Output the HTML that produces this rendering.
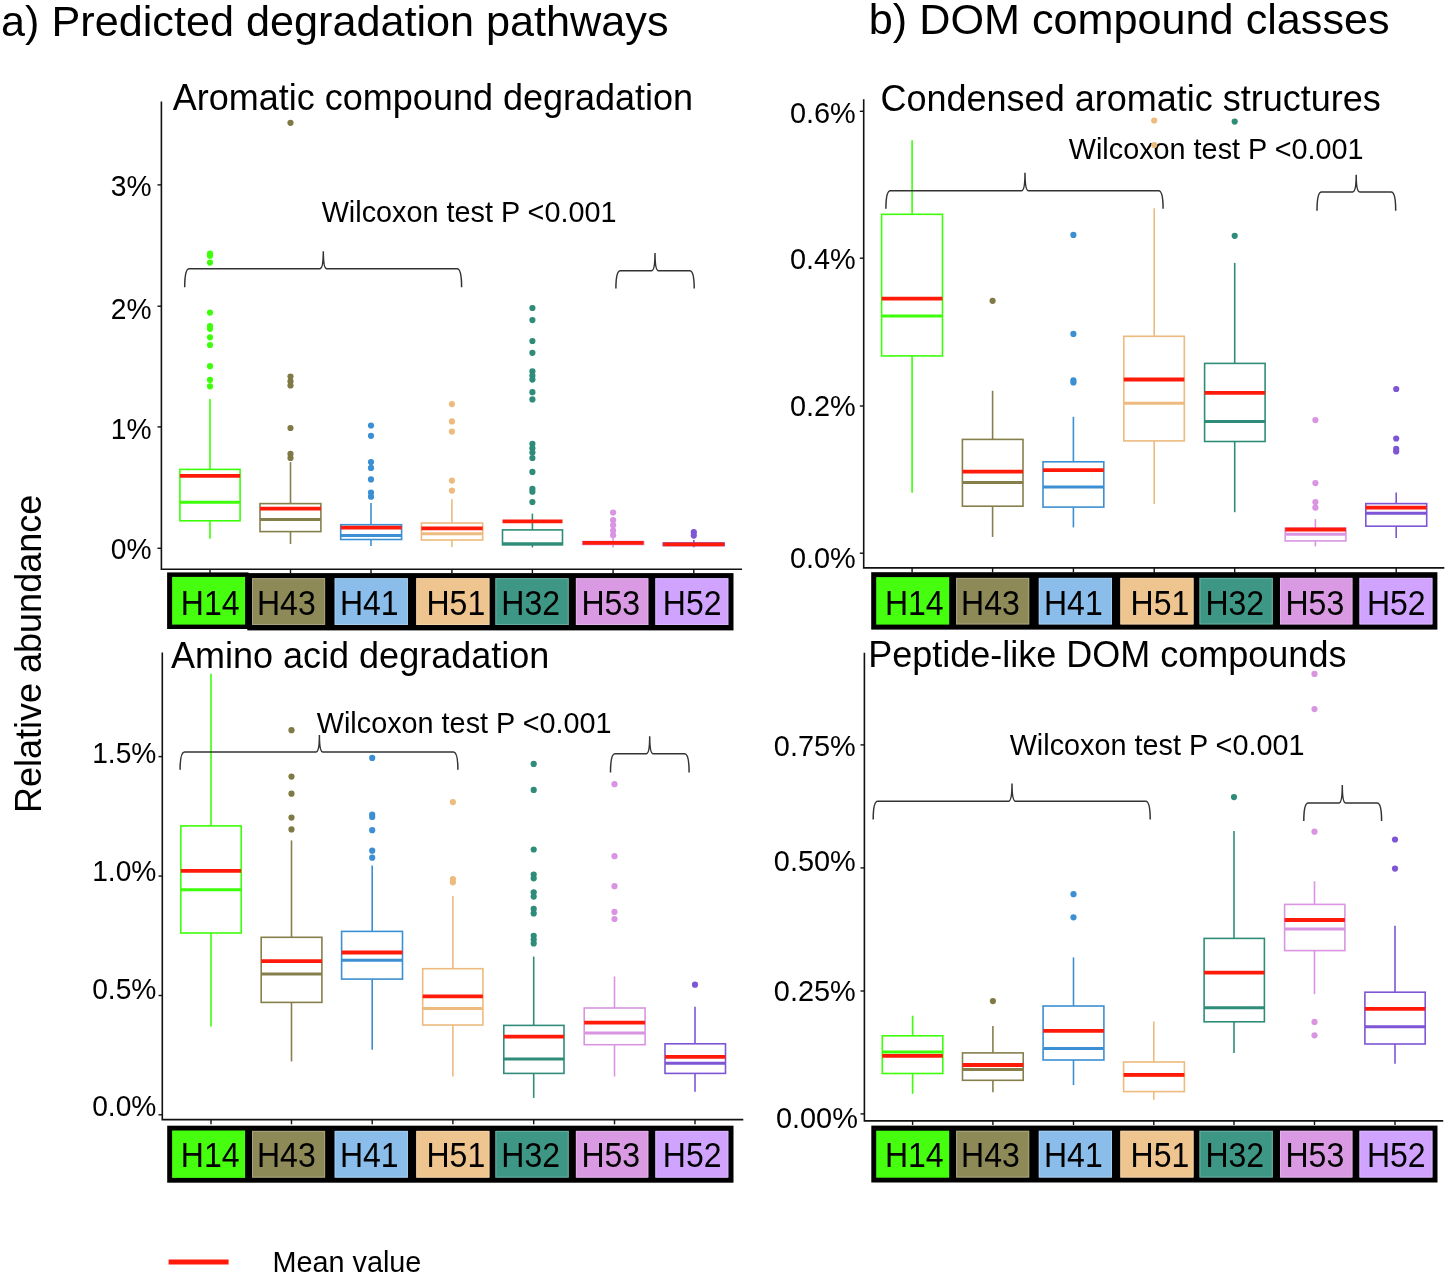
<!DOCTYPE html><html><head><meta charset="utf-8"><style>html,body{margin:0;padding:0;background:#fff;}svg{display:block}text{font-family:"Liberation Sans",sans-serif;}</style></head><body>
<svg width="1450" height="1275" viewBox="0 0 1450 1275" style="will-change:transform">
<rect width="1450" height="1275" fill="#fff"/>
<text x="1.1" y="35.9" font-size="43.2" text-anchor="start" >a) Predicted degradation pathways</text>
<text x="868.8" y="33.8" font-size="43.2" text-anchor="start" >b) DOM compound classes</text>
<text x="172.8" y="109.9" font-size="36" text-anchor="start" >Aromatic compound degradation</text>
<text x="171" y="667.6" font-size="36" text-anchor="start" >Amino acid degradation</text>
<text x="880.5" y="110.8" font-size="36" text-anchor="start" >Condensed aromatic structures</text>
<text x="868.2" y="666.8" font-size="36" text-anchor="start" >Peptide-like DOM compounds</text>
<text x="321.7" y="222.4" font-size="28.8" text-anchor="start" >Wilcoxon test P &lt;0.001</text>
<text x="316.8" y="732.9" font-size="28.8" text-anchor="start" >Wilcoxon test P &lt;0.001</text>
<text x="1068.8" y="158.8" font-size="28.8" text-anchor="start" >Wilcoxon test P &lt;0.001</text>
<text x="1009.7" y="754.5" font-size="28.8" text-anchor="start" >Wilcoxon test P &lt;0.001</text>
<text x="272.5" y="1271.7" font-size="28.8" text-anchor="start" >Mean value</text>
<text x="0" y="0" font-size="36" text-anchor="middle" transform="translate(41,653.9) rotate(-90)">Relative abundance</text>
<line x1="168.6" y1="1261.9" x2="228.6" y2="1261.9" stroke="#FF1A0A" stroke-width="5"/>
<text transform="translate(151.6,196.3) scale(1,1.05)" font-size="28.2" text-anchor="end" >3%</text>
<text transform="translate(151.6,319) scale(1,1.05)" font-size="28.2" text-anchor="end" >2%</text>
<text transform="translate(151.6,439.1) scale(1,1.05)" font-size="28.2" text-anchor="end" >1%</text>
<text transform="translate(151.6,558.6) scale(1,1.05)" font-size="28.2" text-anchor="end" >0%</text>
<path d="M161.4,101.4 V569.2 H742" fill="none" stroke="#111" stroke-width="1.6"/>
<line x1="157.5" y1="184.9" x2="161.4" y2="184.9" stroke="#111" stroke-width="1.4"/>
<line x1="157.5" y1="306.2" x2="161.4" y2="306.2" stroke="#111" stroke-width="1.4"/>
<line x1="157.5" y1="426.9" x2="161.4" y2="426.9" stroke="#111" stroke-width="1.4"/>
<line x1="157.5" y1="548.3" x2="161.4" y2="548.3" stroke="#111" stroke-width="1.4"/>
<line x1="210" y1="569.2" x2="210" y2="573.2" stroke="#111" stroke-width="1.4"/>
<line x1="290.5" y1="569.2" x2="290.5" y2="573.2" stroke="#111" stroke-width="1.4"/>
<line x1="371" y1="569.2" x2="371" y2="573.2" stroke="#111" stroke-width="1.4"/>
<line x1="451.9" y1="569.2" x2="451.9" y2="573.2" stroke="#111" stroke-width="1.4"/>
<line x1="532.4" y1="569.2" x2="532.4" y2="573.2" stroke="#111" stroke-width="1.4"/>
<line x1="613.1" y1="569.2" x2="613.1" y2="573.2" stroke="#111" stroke-width="1.4"/>
<line x1="693.8" y1="569.2" x2="693.8" y2="573.2" stroke="#111" stroke-width="1.4"/>
<g stroke="#3DFF0A" fill="none" stroke-width="1.6">
<line x1="210" y1="399" x2="210" y2="469.4"/>
<line x1="210" y1="520.8" x2="210" y2="538.7"/>
<rect x="179.9" y="469.4" width="60.2" height="51.4"/>
<line x1="179.9" y1="502.3" x2="240.1" y2="502.3" stroke-width="3"/>
</g>
<line x1="179.9" y1="475.8" x2="240.1" y2="475.8" stroke="#FF1A0A" stroke-width="3.8"/>
<circle cx="210" cy="253.6" r="3.1" fill="#3DFF0A"/>
<circle cx="210" cy="255.7" r="3.1" fill="#3DFF0A"/>
<circle cx="210" cy="262.6" r="3.1" fill="#3DFF0A"/>
<circle cx="210" cy="312.6" r="3.1" fill="#3DFF0A"/>
<circle cx="210" cy="326" r="3.1" fill="#3DFF0A"/>
<circle cx="210" cy="328.8" r="3.1" fill="#3DFF0A"/>
<circle cx="210" cy="337.3" r="3.1" fill="#3DFF0A"/>
<circle cx="210" cy="345" r="3.1" fill="#3DFF0A"/>
<circle cx="210" cy="366.2" r="3.1" fill="#3DFF0A"/>
<circle cx="210" cy="379.8" r="3.1" fill="#3DFF0A"/>
<circle cx="210" cy="386.3" r="3.1" fill="#3DFF0A"/>
<g stroke="#857F4C" fill="none" stroke-width="1.6">
<line x1="290.5" y1="462.1" x2="290.5" y2="503.6"/>
<line x1="290.5" y1="531.6" x2="290.5" y2="544.1"/>
<rect x="260" y="503.6" width="60.9" height="28"/>
<line x1="260" y1="519.4" x2="320.9" y2="519.4" stroke-width="3"/>
</g>
<line x1="260" y1="508.7" x2="320.9" y2="508.7" stroke="#FF1A0A" stroke-width="3.8"/>
<circle cx="290.5" cy="122.8" r="3.1" fill="#7F7A45"/>
<circle cx="290.5" cy="376.5" r="3.1" fill="#7F7A45"/>
<circle cx="290.5" cy="381.4" r="3.1" fill="#7F7A45"/>
<circle cx="290.5" cy="385.5" r="3.1" fill="#7F7A45"/>
<circle cx="290.5" cy="428" r="3.1" fill="#7F7A45"/>
<circle cx="290.5" cy="453.9" r="3.1" fill="#7F7A45"/>
<circle cx="290.5" cy="458" r="3.1" fill="#7F7A45"/>
<g stroke="#3B8FD2" fill="none" stroke-width="1.6">
<line x1="371" y1="503" x2="371" y2="524.7"/>
<line x1="371" y1="539.5" x2="371" y2="546.1"/>
<rect x="340.7" y="524.7" width="60.9" height="14.8"/>
<line x1="340.7" y1="535.4" x2="401.6" y2="535.4" stroke-width="3"/>
</g>
<line x1="340.7" y1="527.7" x2="401.6" y2="527.7" stroke="#FF1A0A" stroke-width="3.8"/>
<circle cx="371" cy="425.5" r="3.1" fill="#3B8FD2"/>
<circle cx="371" cy="435.8" r="3.1" fill="#3B8FD2"/>
<circle cx="371" cy="462.1" r="3.1" fill="#3B8FD2"/>
<circle cx="371" cy="467.9" r="3.1" fill="#3B8FD2"/>
<circle cx="371" cy="479.4" r="3.1" fill="#3B8FD2"/>
<circle cx="371" cy="492.6" r="3.1" fill="#3B8FD2"/>
<circle cx="371" cy="496.7" r="3.1" fill="#3B8FD2"/>
<g stroke="#EDBB7E" fill="none" stroke-width="1.6">
<line x1="451.9" y1="499.2" x2="451.9" y2="523"/>
<line x1="451.9" y1="540" x2="451.9" y2="547"/>
<rect x="421.4" y="523" width="61.3" height="17"/>
<line x1="421.4" y1="533.7" x2="482.7" y2="533.7" stroke-width="3"/>
</g>
<line x1="421.4" y1="528.3" x2="482.7" y2="528.3" stroke="#FF1A0A" stroke-width="3.8"/>
<circle cx="451.9" cy="404.1" r="3.1" fill="#EDBB7E"/>
<circle cx="451.9" cy="421.4" r="3.1" fill="#EDBB7E"/>
<circle cx="451.9" cy="431.6" r="3.1" fill="#EDBB7E"/>
<circle cx="451.9" cy="480.6" r="3.1" fill="#EDBB7E"/>
<circle cx="451.9" cy="490.6" r="3.1" fill="#EDBB7E"/>
<g stroke="#2E8C78" fill="none" stroke-width="1.6">
<line x1="532.4" y1="513.6" x2="532.4" y2="529.9"/>
<line x1="532.4" y1="544.8" x2="532.4" y2="547.5"/>
<rect x="502.5" y="529.9" width="60" height="14.9"/>
<line x1="502.5" y1="543.7" x2="562.5" y2="543.7" stroke-width="3"/>
</g>
<line x1="502.5" y1="521.3" x2="562.5" y2="521.3" stroke="#FF1A0A" stroke-width="3.8"/>
<circle cx="532.4" cy="308" r="3.1" fill="#2E8C78"/>
<circle cx="532.4" cy="320.1" r="3.1" fill="#2E8C78"/>
<circle cx="532.4" cy="341" r="3.1" fill="#2E8C78"/>
<circle cx="532.4" cy="352.8" r="3.1" fill="#2E8C78"/>
<circle cx="532.4" cy="371.3" r="3.1" fill="#2E8C78"/>
<circle cx="532.4" cy="375.7" r="3.1" fill="#2E8C78"/>
<circle cx="532.4" cy="379.6" r="3.1" fill="#2E8C78"/>
<circle cx="532.4" cy="392.2" r="3.1" fill="#2E8C78"/>
<circle cx="532.4" cy="399.4" r="3.1" fill="#2E8C78"/>
<circle cx="532.4" cy="443.8" r="3.1" fill="#2E8C78"/>
<circle cx="532.4" cy="448.2" r="3.1" fill="#2E8C78"/>
<circle cx="532.4" cy="452.6" r="3.1" fill="#2E8C78"/>
<circle cx="532.4" cy="458" r="3.1" fill="#2E8C78"/>
<circle cx="532.4" cy="471.9" r="3.1" fill="#2E8C78"/>
<circle cx="532.4" cy="488.8" r="3.1" fill="#2E8C78"/>
<circle cx="532.4" cy="491.7" r="3.1" fill="#2E8C78"/>
<circle cx="532.4" cy="502" r="3.1" fill="#2E8C78"/>
<g stroke="#D995E1" fill="none" stroke-width="1.6">
<line x1="613.1" y1="538.2" x2="613.1" y2="541.5"/>
<line x1="613.1" y1="544.5" x2="613.1" y2="547.5"/>
<rect x="582.7" y="541.5" width="60.9" height="3"/>
<line x1="582.7" y1="543" x2="643.6" y2="543" stroke-width="3"/>
</g>
<line x1="582.7" y1="542.8" x2="643.6" y2="542.8" stroke="#FF1A0A" stroke-width="3.8"/>
<circle cx="613.1" cy="512.5" r="3.1" fill="#D995E1"/>
<circle cx="613.1" cy="520.2" r="3.1" fill="#D995E1"/>
<circle cx="613.1" cy="525.2" r="3.1" fill="#D995E1"/>
<circle cx="613.1" cy="530.5" r="3.1" fill="#D995E1"/>
<circle cx="613.1" cy="535.2" r="3.1" fill="#D995E1"/>
<g stroke="#7D55D5" fill="none" stroke-width="1.6">
<line x1="693.8" y1="540" x2="693.8" y2="543"/>
<line x1="693.8" y1="545.5" x2="693.8" y2="547.3"/>
<rect x="663.2" y="543" width="61" height="2.5"/>
<line x1="663.2" y1="544.5" x2="724.2" y2="544.5" stroke-width="3"/>
</g>
<line x1="663.2" y1="544.3" x2="724.2" y2="544.3" stroke="#FF1A0A" stroke-width="3.8"/>
<circle cx="693.8" cy="532.2" r="3.1" fill="#7D55D5"/>
<circle cx="693.8" cy="535.6" r="3.1" fill="#7D55D5"/>
<text transform="translate(156.4,763.4) scale(1,1.05)" font-size="28.2" text-anchor="end" >1.5%</text>
<text transform="translate(156.4,880.7) scale(1,1.05)" font-size="28.2" text-anchor="end" >1.0%</text>
<text transform="translate(156.4,998.7) scale(1,1.05)" font-size="28.2" text-anchor="end" >0.5%</text>
<text transform="translate(156.4,1115.8) scale(1,1.05)" font-size="28.2" text-anchor="end" >0.0%</text>
<path d="M162.3,652.4 V1119.6 H743.3" fill="none" stroke="#111" stroke-width="1.6"/>
<line x1="158.5" y1="756.6" x2="162.3" y2="756.6" stroke="#111" stroke-width="1.4"/>
<line x1="158.5" y1="876.1" x2="162.3" y2="876.1" stroke="#111" stroke-width="1.4"/>
<line x1="158.5" y1="995.5" x2="162.3" y2="995.5" stroke="#111" stroke-width="1.4"/>
<line x1="158.5" y1="1114.8" x2="162.3" y2="1114.8" stroke="#111" stroke-width="1.4"/>
<line x1="211" y1="1119.6" x2="211" y2="1124.3" stroke="#111" stroke-width="1.4"/>
<line x1="291.5" y1="1119.6" x2="291.5" y2="1124.3" stroke="#111" stroke-width="1.4"/>
<line x1="372.2" y1="1119.6" x2="372.2" y2="1124.3" stroke="#111" stroke-width="1.4"/>
<line x1="452.9" y1="1119.6" x2="452.9" y2="1124.3" stroke="#111" stroke-width="1.4"/>
<line x1="533.7" y1="1119.6" x2="533.7" y2="1124.3" stroke="#111" stroke-width="1.4"/>
<line x1="614.5" y1="1119.6" x2="614.5" y2="1124.3" stroke="#111" stroke-width="1.4"/>
<line x1="695" y1="1119.6" x2="695" y2="1124.3" stroke="#111" stroke-width="1.4"/>
<g stroke="#3DFF0A" fill="none" stroke-width="1.6">
<line x1="211" y1="673.7" x2="211" y2="825.9"/>
<line x1="211" y1="933" x2="211" y2="1026.6"/>
<rect x="180.8" y="825.9" width="60.4" height="107.1"/>
<line x1="180.8" y1="889.8" x2="241.2" y2="889.8" stroke-width="3"/>
</g>
<line x1="180.8" y1="870.9" x2="241.2" y2="870.9" stroke="#FF1A0A" stroke-width="3.8"/>
<g stroke="#857F4C" fill="none" stroke-width="1.6">
<line x1="291.5" y1="840.4" x2="291.5" y2="937.3"/>
<line x1="291.5" y1="1002.4" x2="291.5" y2="1061.4"/>
<rect x="261.2" y="937.3" width="60.7" height="65.1"/>
<line x1="261.2" y1="974.1" x2="321.9" y2="974.1" stroke-width="3"/>
</g>
<line x1="261.2" y1="961.2" x2="321.9" y2="961.2" stroke="#FF1A0A" stroke-width="3.8"/>
<circle cx="291.5" cy="730.2" r="3.1" fill="#7F7A45"/>
<circle cx="291.5" cy="776.6" r="3.1" fill="#7F7A45"/>
<circle cx="291.5" cy="793.7" r="3.1" fill="#7F7A45"/>
<circle cx="291.5" cy="817.6" r="3.1" fill="#7F7A45"/>
<circle cx="291.5" cy="829.4" r="3.1" fill="#7F7A45"/>
<g stroke="#3B8FD2" fill="none" stroke-width="1.6">
<line x1="372.2" y1="865.4" x2="372.2" y2="931.4"/>
<line x1="372.2" y1="979.1" x2="372.2" y2="1049.8"/>
<rect x="341.6" y="931.4" width="60.9" height="47.7"/>
<line x1="341.6" y1="960.2" x2="402.5" y2="960.2" stroke-width="3"/>
</g>
<line x1="341.6" y1="952.5" x2="402.5" y2="952.5" stroke="#FF1A0A" stroke-width="3.8"/>
<circle cx="372.2" cy="757.9" r="3.1" fill="#3B8FD2"/>
<circle cx="372.2" cy="814.5" r="3.1" fill="#3B8FD2"/>
<circle cx="372.2" cy="817" r="3.1" fill="#3B8FD2"/>
<circle cx="372.2" cy="830.2" r="3.1" fill="#3B8FD2"/>
<circle cx="372.2" cy="850.7" r="3.1" fill="#3B8FD2"/>
<circle cx="372.2" cy="857.7" r="3.1" fill="#3B8FD2"/>
<g stroke="#EDBB7E" fill="none" stroke-width="1.6">
<line x1="452.9" y1="896" x2="452.9" y2="968.7"/>
<line x1="452.9" y1="1025" x2="452.9" y2="1076.4"/>
<rect x="422.7" y="968.7" width="60.2" height="56.3"/>
<line x1="422.7" y1="1008.5" x2="482.9" y2="1008.5" stroke-width="3"/>
</g>
<line x1="422.7" y1="996.3" x2="482.9" y2="996.3" stroke="#FF1A0A" stroke-width="3.8"/>
<circle cx="452.9" cy="802.1" r="3.1" fill="#EDBB7E"/>
<circle cx="452.9" cy="879.1" r="3.1" fill="#EDBB7E"/>
<circle cx="452.9" cy="882.2" r="3.1" fill="#EDBB7E"/>
<g stroke="#2E8C78" fill="none" stroke-width="1.6">
<line x1="533.7" y1="956.6" x2="533.7" y2="1025.4"/>
<line x1="533.7" y1="1073.4" x2="533.7" y2="1097.9"/>
<rect x="503.8" y="1025.4" width="60.2" height="48"/>
<line x1="503.8" y1="1059.1" x2="564" y2="1059.1" stroke-width="3"/>
</g>
<line x1="503.8" y1="1036.7" x2="564" y2="1036.7" stroke="#FF1A0A" stroke-width="3.8"/>
<circle cx="533.7" cy="763.9" r="3.1" fill="#2E8C78"/>
<circle cx="533.7" cy="789.9" r="3.1" fill="#2E8C78"/>
<circle cx="533.7" cy="849.5" r="3.1" fill="#2E8C78"/>
<circle cx="533.7" cy="874.6" r="3.1" fill="#2E8C78"/>
<circle cx="533.7" cy="878.3" r="3.1" fill="#2E8C78"/>
<circle cx="533.7" cy="892.3" r="3.1" fill="#2E8C78"/>
<circle cx="533.7" cy="896.6" r="3.1" fill="#2E8C78"/>
<circle cx="533.7" cy="908.9" r="3.1" fill="#2E8C78"/>
<circle cx="533.7" cy="913.4" r="3.1" fill="#2E8C78"/>
<circle cx="533.7" cy="935.8" r="3.1" fill="#2E8C78"/>
<circle cx="533.7" cy="939.5" r="3.1" fill="#2E8C78"/>
<circle cx="533.7" cy="943.4" r="3.1" fill="#2E8C78"/>
<g stroke="#D995E1" fill="none" stroke-width="1.6">
<line x1="614.5" y1="976.5" x2="614.5" y2="1008"/>
<line x1="614.5" y1="1044.7" x2="614.5" y2="1076.5"/>
<rect x="584.2" y="1008" width="60.9" height="36.7"/>
<line x1="584.2" y1="1033" x2="645.1" y2="1033" stroke-width="3"/>
</g>
<line x1="584.2" y1="1022.7" x2="645.1" y2="1022.7" stroke="#FF1A0A" stroke-width="3.8"/>
<circle cx="614.5" cy="784.2" r="3.1" fill="#D995E1"/>
<circle cx="614.5" cy="856.2" r="3.1" fill="#D995E1"/>
<circle cx="614.5" cy="886.2" r="3.1" fill="#D995E1"/>
<circle cx="614.5" cy="911.9" r="3.1" fill="#D995E1"/>
<circle cx="614.5" cy="919" r="3.1" fill="#D995E1"/>
<g stroke="#7D55D5" fill="none" stroke-width="1.6">
<line x1="695" y1="1006.7" x2="695" y2="1043.8"/>
<line x1="695" y1="1073.4" x2="695" y2="1091.8"/>
<rect x="665" y="1043.8" width="60.5" height="29.6"/>
<line x1="665" y1="1063.3" x2="725.5" y2="1063.3" stroke-width="3"/>
</g>
<line x1="665" y1="1056.9" x2="725.5" y2="1056.9" stroke="#FF1A0A" stroke-width="3.8"/>
<circle cx="695" cy="984.7" r="3.1" fill="#7D55D5"/>
<text transform="translate(855.8,122.7) scale(1,1.05)" font-size="28.9" text-anchor="end" >0.6%</text>
<text transform="translate(855.8,269) scale(1,1.05)" font-size="28.9" text-anchor="end" >0.4%</text>
<text transform="translate(855.8,415.8) scale(1,1.05)" font-size="28.9" text-anchor="end" >0.2%</text>
<text transform="translate(855.8,567.8) scale(1,1.05)" font-size="28.9" text-anchor="end" >0.0%</text>
<path d="M863.7,99.3 V567.9 H1444.3" fill="none" stroke="#111" stroke-width="1.6"/>
<line x1="859.8" y1="111.3" x2="863.7" y2="111.3" stroke="#111" stroke-width="1.4"/>
<line x1="859.8" y1="258.2" x2="863.7" y2="258.2" stroke="#111" stroke-width="1.4"/>
<line x1="859.8" y1="406" x2="863.7" y2="406" stroke="#111" stroke-width="1.4"/>
<line x1="859.8" y1="553.2" x2="863.7" y2="553.2" stroke="#111" stroke-width="1.4"/>
<line x1="912.1" y1="567.9" x2="912.1" y2="572.4" stroke="#111" stroke-width="1.4"/>
<line x1="992.6" y1="567.9" x2="992.6" y2="572.4" stroke="#111" stroke-width="1.4"/>
<line x1="1073.4" y1="567.9" x2="1073.4" y2="572.4" stroke="#111" stroke-width="1.4"/>
<line x1="1154.2" y1="567.9" x2="1154.2" y2="572.4" stroke="#111" stroke-width="1.4"/>
<line x1="1234.7" y1="567.9" x2="1234.7" y2="572.4" stroke="#111" stroke-width="1.4"/>
<line x1="1315.4" y1="567.9" x2="1315.4" y2="572.4" stroke="#111" stroke-width="1.4"/>
<line x1="1396.2" y1="567.9" x2="1396.2" y2="572.4" stroke="#111" stroke-width="1.4"/>
<g stroke="#3DFF0A" fill="none" stroke-width="1.6">
<line x1="912.1" y1="140.3" x2="912.1" y2="214.3"/>
<line x1="912.1" y1="355.9" x2="912.1" y2="492.8"/>
<rect x="881.6" y="214.3" width="60.9" height="141.6"/>
<line x1="881.6" y1="316" x2="942.5" y2="316" stroke-width="3"/>
</g>
<line x1="881.6" y1="298.7" x2="942.5" y2="298.7" stroke="#FF1A0A" stroke-width="3.8"/>
<g stroke="#857F4C" fill="none" stroke-width="1.6">
<line x1="992.6" y1="390.8" x2="992.6" y2="439.4"/>
<line x1="992.6" y1="506.2" x2="992.6" y2="536.9"/>
<rect x="962.4" y="439.4" width="60.6" height="66.8"/>
<line x1="962.4" y1="482.6" x2="1023" y2="482.6" stroke-width="3"/>
</g>
<line x1="962.4" y1="471.6" x2="1023" y2="471.6" stroke="#FF1A0A" stroke-width="3.8"/>
<circle cx="992.6" cy="300.8" r="3.1" fill="#7F7A45"/>
<g stroke="#3B8FD2" fill="none" stroke-width="1.6">
<line x1="1073.4" y1="416.8" x2="1073.4" y2="461.8"/>
<line x1="1073.4" y1="507.1" x2="1073.4" y2="527.4"/>
<rect x="1043" y="461.8" width="60.8" height="45.3"/>
<line x1="1043" y1="487.1" x2="1103.8" y2="487.1" stroke-width="3"/>
</g>
<line x1="1043" y1="470.1" x2="1103.8" y2="470.1" stroke="#FF1A0A" stroke-width="3.8"/>
<circle cx="1073.4" cy="234.9" r="3.1" fill="#3B8FD2"/>
<circle cx="1073.4" cy="333.9" r="3.1" fill="#3B8FD2"/>
<circle cx="1073.4" cy="380.4" r="3.1" fill="#3B8FD2"/>
<circle cx="1073.4" cy="382.5" r="3.1" fill="#3B8FD2"/>
<g stroke="#EDBB7E" fill="none" stroke-width="1.6">
<line x1="1154.2" y1="208.3" x2="1154.2" y2="336.3"/>
<line x1="1154.2" y1="440.9" x2="1154.2" y2="504.1"/>
<rect x="1123.8" y="336.3" width="60.5" height="104.6"/>
<line x1="1123.8" y1="403.3" x2="1184.3" y2="403.3" stroke-width="3"/>
</g>
<line x1="1123.8" y1="379.5" x2="1184.3" y2="379.5" stroke="#FF1A0A" stroke-width="3.8"/>
<circle cx="1154.2" cy="120.5" r="3.1" fill="#EDBB7E"/>
<circle cx="1154.2" cy="145" r="3.1" fill="#EDBB7E"/>
<g stroke="#2E8C78" fill="none" stroke-width="1.6">
<line x1="1234.7" y1="262.9" x2="1234.7" y2="363.4"/>
<line x1="1234.7" y1="441.5" x2="1234.7" y2="512.2"/>
<rect x="1204.6" y="363.4" width="60.5" height="78.1"/>
<line x1="1204.6" y1="421.5" x2="1265.1" y2="421.5" stroke-width="3"/>
</g>
<line x1="1204.6" y1="392.9" x2="1265.1" y2="392.9" stroke="#FF1A0A" stroke-width="3.8"/>
<circle cx="1234.7" cy="121.6" r="3.1" fill="#2E8C78"/>
<circle cx="1234.7" cy="235.8" r="3.1" fill="#2E8C78"/>
<g stroke="#D995E1" fill="none" stroke-width="1.6">
<line x1="1315.4" y1="519.1" x2="1315.4" y2="528.3"/>
<line x1="1315.4" y1="540.9" x2="1315.4" y2="546.4"/>
<rect x="1285.2" y="528.3" width="60.7" height="12.6"/>
<line x1="1285.2" y1="534.3" x2="1345.9" y2="534.3" stroke-width="3"/>
</g>
<line x1="1285.2" y1="529.5" x2="1345.9" y2="529.5" stroke="#FF1A0A" stroke-width="3.8"/>
<circle cx="1315.4" cy="420.1" r="3.1" fill="#D995E1"/>
<circle cx="1315.4" cy="483.1" r="3.1" fill="#D995E1"/>
<circle cx="1315.4" cy="502" r="3.1" fill="#D995E1"/>
<circle cx="1315.4" cy="507.6" r="3.1" fill="#D995E1"/>
<g stroke="#7D55D5" fill="none" stroke-width="1.6">
<line x1="1396.2" y1="492.5" x2="1396.2" y2="503.6"/>
<line x1="1396.2" y1="526.2" x2="1396.2" y2="538.1"/>
<rect x="1365.8" y="503.6" width="60.9" height="22.6"/>
<line x1="1365.8" y1="513.3" x2="1426.7" y2="513.3" stroke-width="3"/>
</g>
<line x1="1365.8" y1="507.6" x2="1426.7" y2="507.6" stroke="#FF1A0A" stroke-width="3.8"/>
<circle cx="1396.2" cy="389" r="3.1" fill="#7D55D5"/>
<circle cx="1396.2" cy="438.5" r="3.1" fill="#7D55D5"/>
<circle cx="1396.2" cy="448.9" r="3.1" fill="#7D55D5"/>
<circle cx="1396.2" cy="451.5" r="3.1" fill="#7D55D5"/>
<text transform="translate(855.8,756) scale(1,1.05)" font-size="28.9" text-anchor="end" >0.75%</text>
<text transform="translate(855.8,871.3) scale(1,1.05)" font-size="28.9" text-anchor="end" >0.50%</text>
<text transform="translate(855.8,1001.4) scale(1,1.05)" font-size="28.9" text-anchor="end" >0.25%</text>
<text transform="translate(857.9,1128.3) scale(1,1.05)" font-size="28.9" text-anchor="end" >0.00%</text>
<path d="M864.4,652.7 V1120.9 H1443.2" fill="none" stroke="#111" stroke-width="1.6"/>
<line x1="860.5" y1="744.9" x2="864.4" y2="744.9" stroke="#111" stroke-width="1.4"/>
<line x1="860.5" y1="867.9" x2="864.4" y2="867.9" stroke="#111" stroke-width="1.4"/>
<line x1="860.5" y1="991" x2="864.4" y2="991" stroke="#111" stroke-width="1.4"/>
<line x1="860.5" y1="1113.9" x2="864.4" y2="1113.9" stroke="#111" stroke-width="1.4"/>
<line x1="912.6" y1="1120.9" x2="912.6" y2="1125" stroke="#111" stroke-width="1.4"/>
<line x1="992.9" y1="1120.9" x2="992.9" y2="1125" stroke="#111" stroke-width="1.4"/>
<line x1="1073.5" y1="1120.9" x2="1073.5" y2="1125" stroke="#111" stroke-width="1.4"/>
<line x1="1153.8" y1="1120.9" x2="1153.8" y2="1125" stroke="#111" stroke-width="1.4"/>
<line x1="1234" y1="1120.9" x2="1234" y2="1125" stroke="#111" stroke-width="1.4"/>
<line x1="1314.5" y1="1120.9" x2="1314.5" y2="1125" stroke="#111" stroke-width="1.4"/>
<line x1="1395" y1="1120.9" x2="1395" y2="1125" stroke="#111" stroke-width="1.4"/>
<g stroke="#3DFF0A" fill="none" stroke-width="1.6">
<line x1="912.6" y1="1015.7" x2="912.6" y2="1035.8"/>
<line x1="912.6" y1="1073.5" x2="912.6" y2="1093.9"/>
<rect x="882.3" y="1035.8" width="60.5" height="37.7"/>
<line x1="882.3" y1="1052.1" x2="942.8" y2="1052.1" stroke-width="3"/>
</g>
<line x1="882.3" y1="1055.8" x2="942.8" y2="1055.8" stroke="#FF1A0A" stroke-width="3.8"/>
<g stroke="#857F4C" fill="none" stroke-width="1.6">
<line x1="992.9" y1="1026.1" x2="992.9" y2="1052.9"/>
<line x1="992.9" y1="1080.3" x2="992.9" y2="1092.2"/>
<rect x="962.5" y="1052.9" width="60.7" height="27.4"/>
<line x1="962.5" y1="1069.6" x2="1023.2" y2="1069.6" stroke-width="3"/>
</g>
<line x1="962.5" y1="1065" x2="1023.2" y2="1065" stroke="#FF1A0A" stroke-width="3.8"/>
<circle cx="992.9" cy="1001.1" r="3.1" fill="#7F7A45"/>
<g stroke="#3B8FD2" fill="none" stroke-width="1.6">
<line x1="1073.5" y1="957.4" x2="1073.5" y2="1006"/>
<line x1="1073.5" y1="1060" x2="1073.5" y2="1085.1"/>
<rect x="1043.1" y="1006" width="60.8" height="54"/>
<line x1="1043.1" y1="1048.6" x2="1103.9" y2="1048.6" stroke-width="3"/>
</g>
<line x1="1043.1" y1="1030.8" x2="1103.9" y2="1030.8" stroke="#FF1A0A" stroke-width="3.8"/>
<circle cx="1073.5" cy="894.2" r="3.1" fill="#3B8FD2"/>
<circle cx="1073.5" cy="917.3" r="3.1" fill="#3B8FD2"/>
<g stroke="#EDBB7E" fill="none" stroke-width="1.6">
<line x1="1153.8" y1="1021.4" x2="1153.8" y2="1062"/>
<line x1="1153.8" y1="1091.6" x2="1153.8" y2="1099.7"/>
<rect x="1123.6" y="1062" width="60.8" height="29.6"/>
<line x1="1123.6" y1="1075.5" x2="1184.4" y2="1075.5" stroke-width="3"/>
</g>
<line x1="1123.6" y1="1074.9" x2="1184.4" y2="1074.9" stroke="#FF1A0A" stroke-width="3.8"/>
<g stroke="#2E8C78" fill="none" stroke-width="1.6">
<line x1="1234" y1="830.9" x2="1234" y2="938.4"/>
<line x1="1234" y1="1021.8" x2="1234" y2="1053"/>
<rect x="1204.1" y="938.4" width="60.3" height="83.4"/>
<line x1="1204.1" y1="1007.7" x2="1264.4" y2="1007.7" stroke-width="3"/>
</g>
<line x1="1204.1" y1="972.7" x2="1264.4" y2="972.7" stroke="#FF1A0A" stroke-width="3.8"/>
<circle cx="1234" cy="797.1" r="3.1" fill="#2E8C78"/>
<g stroke="#D995E1" fill="none" stroke-width="1.6">
<line x1="1314.5" y1="881.3" x2="1314.5" y2="904.4"/>
<line x1="1314.5" y1="950.6" x2="1314.5" y2="994.2"/>
<rect x="1284.6" y="904.4" width="60.3" height="46.2"/>
<line x1="1284.6" y1="929" x2="1344.9" y2="929" stroke-width="3"/>
</g>
<line x1="1284.6" y1="920" x2="1344.9" y2="920" stroke="#FF1A0A" stroke-width="3.8"/>
<circle cx="1314.5" cy="673.9" r="3.1" fill="#D995E1"/>
<circle cx="1314.5" cy="709.1" r="3.1" fill="#D995E1"/>
<circle cx="1314.5" cy="831.7" r="3.1" fill="#D995E1"/>
<circle cx="1314.5" cy="1021.9" r="3.1" fill="#D995E1"/>
<circle cx="1314.5" cy="1035.3" r="3.1" fill="#D995E1"/>
<g stroke="#7D55D5" fill="none" stroke-width="1.6">
<line x1="1395" y1="925.8" x2="1395" y2="992.2"/>
<line x1="1395" y1="1044" x2="1395" y2="1063.7"/>
<rect x="1364.9" y="992.2" width="60.3" height="51.8"/>
<line x1="1364.9" y1="1026.8" x2="1425.2" y2="1026.8" stroke-width="3"/>
</g>
<line x1="1364.9" y1="1008.8" x2="1425.2" y2="1008.8" stroke="#FF1A0A" stroke-width="3.8"/>
<circle cx="1395" cy="839.5" r="3.1" fill="#7D55D5"/>
<circle cx="1395" cy="868.6" r="3.1" fill="#7D55D5"/>
<path d="M184.7,287.2 C184.7,278.2 185.3,268.8 189.2,268.8 L319.8,268.8 Q323.3,268.8 323.3,251.3 Q323.3,268.8 326.8,268.8 L457.1,268.8 C461,268.8 461.6,278.2 461.6,287.2" fill="none" stroke="#333" stroke-width="1.5"/>
<path d="M615.9,288.6 C615.9,279.6 616.5,270.7 620.4,270.7 L651.5,270.7 Q655,270.7 655,252.9 Q655,270.7 658.5,270.7 L689.7,270.7 C693.6,270.7 694.2,279.6 694.2,288.6" fill="none" stroke="#333" stroke-width="1.5"/>
<path d="M180.1,769.7 C180.1,760.7 180.7,752 184.6,752 L315.9,752 Q319.4,752 319.4,734.9 Q319.4,752 322.9,752 L453.4,752 C457.3,752 457.9,760.7 457.9,769.7" fill="none" stroke="#333" stroke-width="1.5"/>
<path d="M610.5,772.4 C610.5,763.4 611.1,753.8 615,753.8 L646.2,753.8 Q649.7,753.8 649.7,736.3 Q649.7,753.8 653.2,753.8 L684.6,753.8 C688.5,753.8 689.1,763.4 689.1,772.4" fill="none" stroke="#333" stroke-width="1.5"/>
<path d="M885.9,208.8 C885.9,199.8 886.5,190.7 890.4,190.7 L1021.5,190.7 Q1025,190.7 1025,172.7 Q1025,190.7 1028.5,190.7 L1158.6,190.7 C1162.5,190.7 1163.1,199.8 1163.1,208.8" fill="none" stroke="#333" stroke-width="1.5"/>
<path d="M1317,210.7 C1317,201.7 1317.6,191.9 1321.5,191.9 L1352.7,191.9 Q1356.2,191.9 1356.2,174.8 Q1356.2,191.9 1359.7,191.9 L1391.2,191.9 C1395.1,191.9 1395.7,201.7 1395.7,210.7" fill="none" stroke="#333" stroke-width="1.5"/>
<path d="M873.2,819.4 C873.2,810.4 873.8,801.3 877.7,801.3 L1008.5,801.3 Q1012,801.3 1012,783.6 Q1012,801.3 1015.5,801.3 L1145.7,801.3 C1149.6,801.3 1150.2,810.4 1150.2,819.4" fill="none" stroke="#333" stroke-width="1.5"/>
<path d="M1303.8,820.9 C1303.8,811.9 1304.4,803 1308.3,803 L1338.8,803 Q1342.3,803 1342.3,784.9 Q1342.3,803 1345.8,803 L1377.1,803 C1381,803 1381.6,811.9 1381.6,820.9" fill="none" stroke="#333" stroke-width="1.5"/>
<rect x="247.3" y="573.1" width="486.2" height="57.3" fill="#000"/>
<rect x="167.1" y="572.4" width="81.4" height="56.6" fill="#000"/>
<rect x="172.1" y="576.9" width="73" height="47.7" fill="#45FF0F"/>
<text transform="translate(180.8,614.6) scale(1,1.08)" font-size="32" text-anchor="start" >H14</text>
<rect x="252" y="578.2" width="73.1" height="46.8" fill="#8E8A58"/>
<rect x="252.5" y="578.7" width="72.1" height="45.8" fill="none" stroke="#A7A47D" stroke-width="1"/>
<text transform="translate(257,614.6) scale(1,1.08)" font-size="32" text-anchor="start" >H43</text>
<rect x="334.7" y="578.2" width="73.2" height="46.8" fill="#8ABDE9"/>
<rect x="335.2" y="578.7" width="72.2" height="45.8" fill="none" stroke="#A4CCEE" stroke-width="1"/>
<text transform="translate(339.9,614.6) scale(1,1.08)" font-size="32" text-anchor="start" >H41</text>
<rect x="416.3" y="578.2" width="73.1" height="46.8" fill="#EEC48F"/>
<rect x="416.8" y="578.7" width="72.1" height="45.8" fill="none" stroke="#F2D1A8" stroke-width="1"/>
<text transform="translate(426.5,614.6) scale(1,1.08)" font-size="32" text-anchor="start" >H51</text>
<rect x="495.4" y="578.2" width="73.3" height="46.8" fill="#3E9685"/>
<rect x="495.9" y="578.7" width="72.3" height="45.8" fill="none" stroke="#68ADA0" stroke-width="1"/>
<text transform="translate(501.3,614.6) scale(1,1.08)" font-size="32" text-anchor="start" >H32</text>
<rect x="575.9" y="578.2" width="72.4" height="46.8" fill="#DA9AE3"/>
<rect x="576.4" y="578.7" width="71.4" height="45.8" fill="none" stroke="#E2B0E9" stroke-width="1"/>
<text transform="translate(581.4,614.6) scale(1,1.08)" font-size="32" text-anchor="start" >H53</text>
<rect x="655.4" y="578.2" width="72.9" height="46.8" fill="#CFA3FE"/>
<rect x="655.9" y="578.7" width="71.9" height="45.8" fill="none" stroke="#DAB7FE" stroke-width="1"/>
<text transform="translate(662.8,614.6) scale(1,1.08)" font-size="32" text-anchor="start" >H52</text>
<rect x="871.2" y="572.2" width="566.2" height="57.4" fill="#000"/>
<rect x="876.2" y="577.1" width="73" height="47.5" fill="#45FF0F"/>
<text transform="translate(884.9,614.6) scale(1,1.08)" font-size="32" text-anchor="start" >H14</text>
<rect x="956.1" y="577.9" width="73.1" height="46.5" fill="#8E8A58"/>
<rect x="956.6" y="578.4" width="72.1" height="45.5" fill="none" stroke="#A7A47D" stroke-width="1"/>
<text transform="translate(961.1,614.6) scale(1,1.08)" font-size="32" text-anchor="start" >H43</text>
<rect x="1038.8" y="577.9" width="73.2" height="46.5" fill="#8ABDE9"/>
<rect x="1039.3" y="578.4" width="72.2" height="45.5" fill="none" stroke="#A4CCEE" stroke-width="1"/>
<text transform="translate(1044,614.6) scale(1,1.08)" font-size="32" text-anchor="start" >H41</text>
<rect x="1120.4" y="577.9" width="73.1" height="46.5" fill="#EEC48F"/>
<rect x="1120.9" y="578.4" width="72.1" height="45.5" fill="none" stroke="#F2D1A8" stroke-width="1"/>
<text transform="translate(1130.6,614.6) scale(1,1.08)" font-size="32" text-anchor="start" >H51</text>
<rect x="1199.5" y="577.9" width="73.3" height="46.5" fill="#3E9685"/>
<rect x="1200" y="578.4" width="72.3" height="45.5" fill="none" stroke="#68ADA0" stroke-width="1"/>
<text transform="translate(1205.4,614.6) scale(1,1.08)" font-size="32" text-anchor="start" >H32</text>
<rect x="1280" y="577.9" width="72.4" height="46.5" fill="#DA9AE3"/>
<rect x="1280.5" y="578.4" width="71.4" height="45.5" fill="none" stroke="#E2B0E9" stroke-width="1"/>
<text transform="translate(1285.5,614.6) scale(1,1.08)" font-size="32" text-anchor="start" >H53</text>
<rect x="1359.5" y="577.9" width="72.9" height="46.5" fill="#CFA3FE"/>
<rect x="1360" y="578.4" width="71.9" height="45.5" fill="none" stroke="#DAB7FE" stroke-width="1"/>
<text transform="translate(1366.9,614.6) scale(1,1.08)" font-size="32" text-anchor="start" >H52</text>
<rect x="167.2" y="1125.7" width="566.3" height="57" fill="#000"/>
<rect x="172.1" y="1130.5" width="73" height="47.4" fill="#45FF0F"/>
<text transform="translate(180.8,1167.2) scale(1,1.08)" font-size="32" text-anchor="start" >H14</text>
<rect x="252" y="1130.9" width="73.1" height="46.7" fill="#8E8A58"/>
<rect x="252.5" y="1131.4" width="72.1" height="45.7" fill="none" stroke="#A7A47D" stroke-width="1"/>
<text transform="translate(257,1167.2) scale(1,1.08)" font-size="32" text-anchor="start" >H43</text>
<rect x="334.7" y="1130.9" width="73.2" height="46.7" fill="#8ABDE9"/>
<rect x="335.2" y="1131.4" width="72.2" height="45.7" fill="none" stroke="#A4CCEE" stroke-width="1"/>
<text transform="translate(339.9,1167.2) scale(1,1.08)" font-size="32" text-anchor="start" >H41</text>
<rect x="416.3" y="1130.9" width="73.1" height="46.7" fill="#EEC48F"/>
<rect x="416.8" y="1131.4" width="72.1" height="45.7" fill="none" stroke="#F2D1A8" stroke-width="1"/>
<text transform="translate(426.5,1167.2) scale(1,1.08)" font-size="32" text-anchor="start" >H51</text>
<rect x="495.4" y="1130.9" width="73.3" height="46.7" fill="#3E9685"/>
<rect x="495.9" y="1131.4" width="72.3" height="45.7" fill="none" stroke="#68ADA0" stroke-width="1"/>
<text transform="translate(501.3,1167.2) scale(1,1.08)" font-size="32" text-anchor="start" >H32</text>
<rect x="575.9" y="1130.9" width="72.4" height="46.7" fill="#DA9AE3"/>
<rect x="576.4" y="1131.4" width="71.4" height="45.7" fill="none" stroke="#E2B0E9" stroke-width="1"/>
<text transform="translate(581.4,1167.2) scale(1,1.08)" font-size="32" text-anchor="start" >H53</text>
<rect x="655.4" y="1130.9" width="72.9" height="46.7" fill="#CFA3FE"/>
<rect x="655.9" y="1131.4" width="71.9" height="45.7" fill="none" stroke="#DAB7FE" stroke-width="1"/>
<text transform="translate(662.8,1167.2) scale(1,1.08)" font-size="32" text-anchor="start" >H52</text>
<rect x="871.3" y="1125.6" width="566.2" height="56.9" fill="#000"/>
<rect x="876.2" y="1130.7" width="73" height="47" fill="#45FF0F"/>
<text transform="translate(884.9,1167.2) scale(1,1.08)" font-size="32" text-anchor="start" >H14</text>
<rect x="956.1" y="1130.8" width="73.1" height="46.7" fill="#8E8A58"/>
<rect x="956.6" y="1131.3" width="72.1" height="45.7" fill="none" stroke="#A7A47D" stroke-width="1"/>
<text transform="translate(961.1,1167.2) scale(1,1.08)" font-size="32" text-anchor="start" >H43</text>
<rect x="1038.8" y="1130.8" width="73.2" height="46.7" fill="#8ABDE9"/>
<rect x="1039.3" y="1131.3" width="72.2" height="45.7" fill="none" stroke="#A4CCEE" stroke-width="1"/>
<text transform="translate(1044,1167.2) scale(1,1.08)" font-size="32" text-anchor="start" >H41</text>
<rect x="1120.4" y="1130.8" width="73.1" height="46.7" fill="#EEC48F"/>
<rect x="1120.9" y="1131.3" width="72.1" height="45.7" fill="none" stroke="#F2D1A8" stroke-width="1"/>
<text transform="translate(1130.6,1167.2) scale(1,1.08)" font-size="32" text-anchor="start" >H51</text>
<rect x="1199.5" y="1130.8" width="73.3" height="46.7" fill="#3E9685"/>
<rect x="1200" y="1131.3" width="72.3" height="45.7" fill="none" stroke="#68ADA0" stroke-width="1"/>
<text transform="translate(1205.4,1167.2) scale(1,1.08)" font-size="32" text-anchor="start" >H32</text>
<rect x="1280" y="1130.8" width="72.4" height="46.7" fill="#DA9AE3"/>
<rect x="1280.5" y="1131.3" width="71.4" height="45.7" fill="none" stroke="#E2B0E9" stroke-width="1"/>
<text transform="translate(1285.5,1167.2) scale(1,1.08)" font-size="32" text-anchor="start" >H53</text>
<rect x="1359.5" y="1130.8" width="72.9" height="46.7" fill="#CFA3FE"/>
<rect x="1360" y="1131.3" width="71.9" height="45.7" fill="none" stroke="#DAB7FE" stroke-width="1"/>
<text transform="translate(1366.9,1167.2) scale(1,1.08)" font-size="32" text-anchor="start" >H52</text>
</svg></body></html>
